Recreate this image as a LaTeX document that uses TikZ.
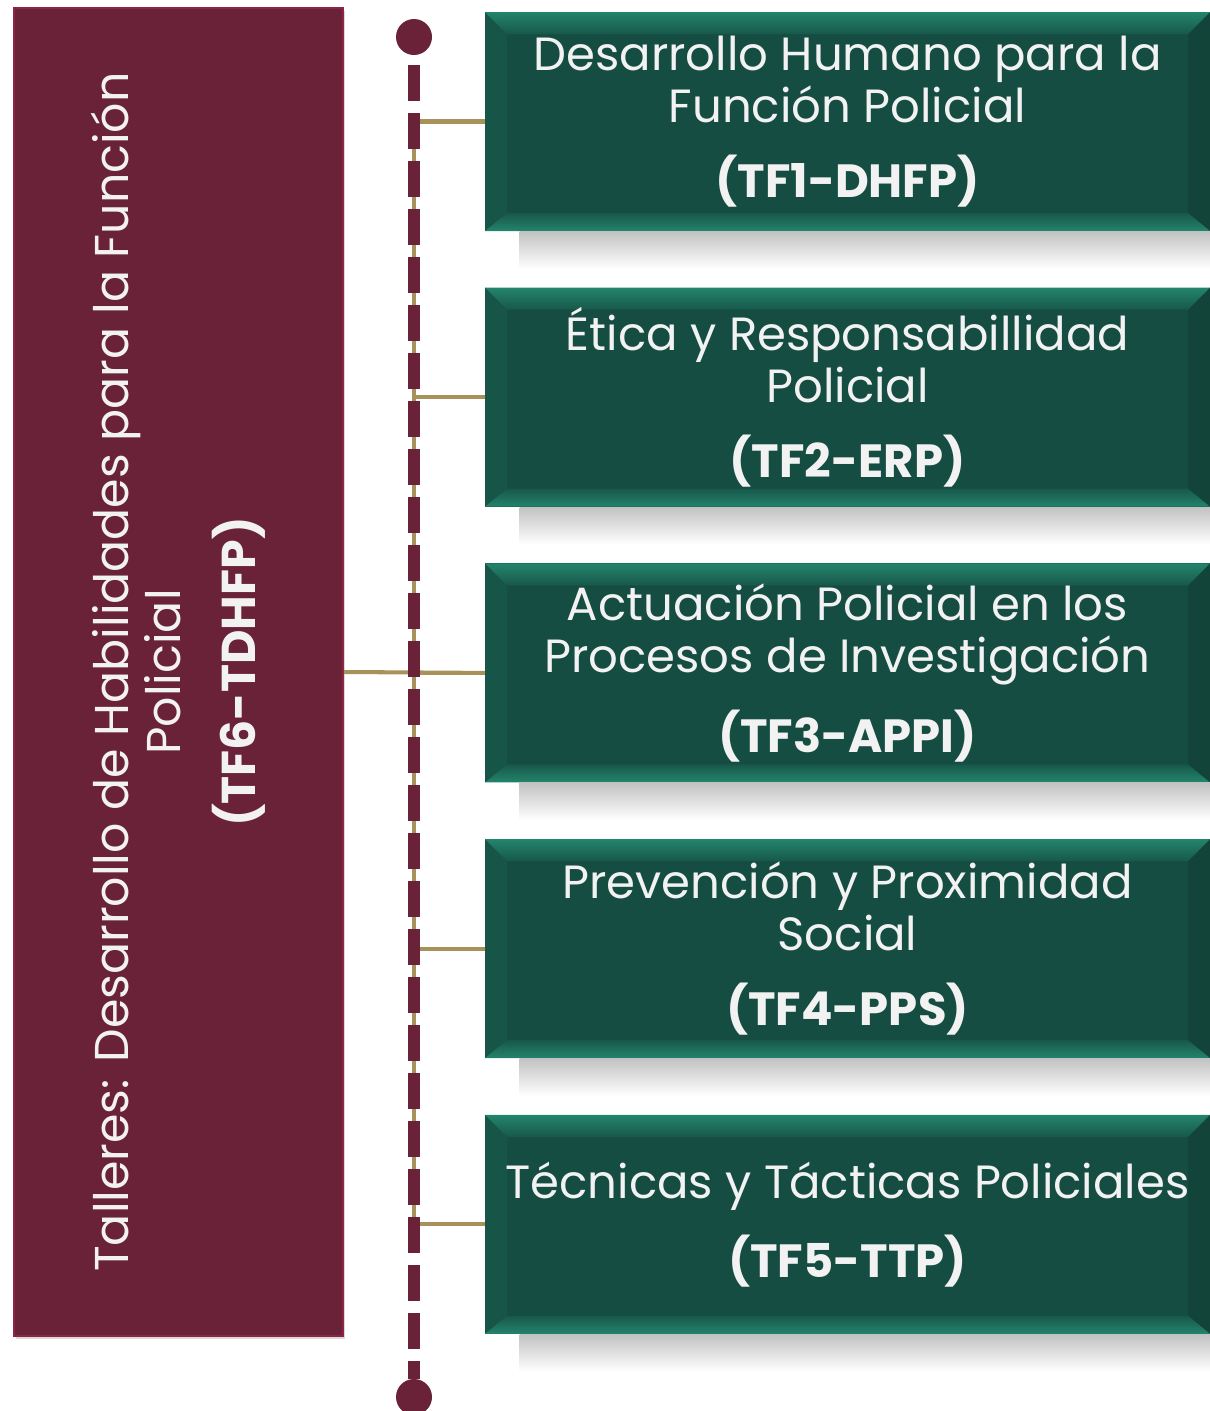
\documentclass[tikz,border=0pt]{standalone}
\usepackage{fontspec}
\setmainfont{Poppins}
\usepackage{tikz}
\usetikzlibrary{positioning,shadows}

\definecolor{tfmaroon}{HTML}{6A2239}
\definecolor{tfrim}{HTML}{8E2444}
\definecolor{tfgold}{HTML}{A8925A}
\definecolor{tfgreen}{HTML}{154D42}
\definecolor{tflight}{HTML}{23846C}
\definecolor{tftext}{HTML}{F2F2F2}

\begin{document}
\begin{tikzpicture}[node distance=1.12cm,
    tfbox/.style={rectangle, minimum width=14.5cm, minimum height=4.38cm, inner sep=0pt,
      fill=tfgreen, text=tftext, align=center,
      font=\fontsize{26.5}{29.6}\selectfont,
      path picture={
        \fill[tfgreen!85!tflight]
          (path picture bounding box.north west) -- ([xshift=0.44cm,yshift=-0.44cm]path picture bounding box.north west)
          -- ([xshift=0.44cm,yshift=0.36cm]path picture bounding box.south west) -- (path picture bounding box.south west) -- cycle;
        \fill[tfgreen!88!black]
          (path picture bounding box.north east) -- ([xshift=-0.44cm,yshift=-0.44cm]path picture bounding box.north east)
          -- ([xshift=-0.44cm,yshift=0.36cm]path picture bounding box.south east) -- (path picture bounding box.south east) -- cycle;
        \shade[top color=tflight, bottom color=tfgreen!80!tflight]
          (path picture bounding box.north west) -- (path picture bounding box.north east)
          -- ([xshift=-0.44cm,yshift=-0.44cm]path picture bounding box.north east)
          -- ([xshift=0.44cm,yshift=-0.44cm]path picture bounding box.north west) -- cycle;
        \shade[top color=tfgreen!80!tflight, bottom color=tflight]
          (path picture bounding box.south west) -- (path picture bounding box.south east)
          -- ([xshift=-0.44cm,yshift=0.36cm]path picture bounding box.south east)
          -- ([xshift=0.44cm,yshift=0.36cm]path picture bounding box.south west) -- cycle;
      }},
    dot/.style={circle, fill=tfmaroon, minimum size=0.72cm, inner sep=0pt},
    link/.style={draw=tfgold, line width=2.3pt},
    spine/.style={draw=tfmaroon, line width=6.8pt, dash pattern=on 20.5pt off 6.8pt, dash phase=21.6pt}]

        \useasboundingbox (0,0) rectangle (24.2,-28.22);

        \node[draw=tfrim, line width=1.2pt, fill=tfmaroon, minimum width=6.58cm, minimum height=26.56cm,
          drop shadow={shadow xshift=0.03cm, shadow yshift=-0.05cm, opacity=0.3}] (tf6) at (3.57,-13.44) {};
        \node[rotate=90, align=center, text=tftext, font=\fontsize{27}{29.6}\selectfont] (tf6text) at (tf6)
          {Talleres: Desarrollo de Habilidades para la Función\\Policial\\[13pt]\textbf{(TF6-TDHFP)}};

        \node[tfbox] (tf1) at (16.95,-2.43) {Desarrollo Humano para la\\Función Policial\\[13pt]\textbf{(TF1-DHFP)}};
        \node[tfbox] (tf2) [below=of tf1] {Ética y Responsabillidad\\Policial\\[13pt]\textbf{(TF2-ERP)}};
        \node[tfbox] (tf3) [below=of tf2] {Actuación Policial en los\\Procesos de Investigación\\[13pt]\textbf{(TF3-APPI)}};
        \node[tfbox] (tf4) [below=of tf3] {Prevención y Proximidad\\Social\\[13pt]\textbf{(TF4-PPS)}};
        \node[tfbox] (tf5) [below=of tf4] {Técnicas y Tácticas Policiales\\[13pt]\textbf{(TF5-TTP)}};

        \foreach \i in {1,...,5}
          \shade[top color=black!24, bottom color=white] ([xshift=0.7cm]tf\i.south west) rectangle ([yshift=-0.75cm]tf\i.south east);

        \node[dot] (top) at (8.28,-0.74) {};
        \node[dot] (bot) at (8.28,-27.94) {};

        \draw[link] (tf1.west -| top) -- (tf5.west -| top);
        \foreach \i in {1,...,5}
          \draw[link] (tf\i.west -| top) -- (tf\i.west);
        \draw[link] (tf6.east) -- (tf3.west);

        \draw[spine] (top.south) -- (bot.north);
\end{tikzpicture}
\end{document}
